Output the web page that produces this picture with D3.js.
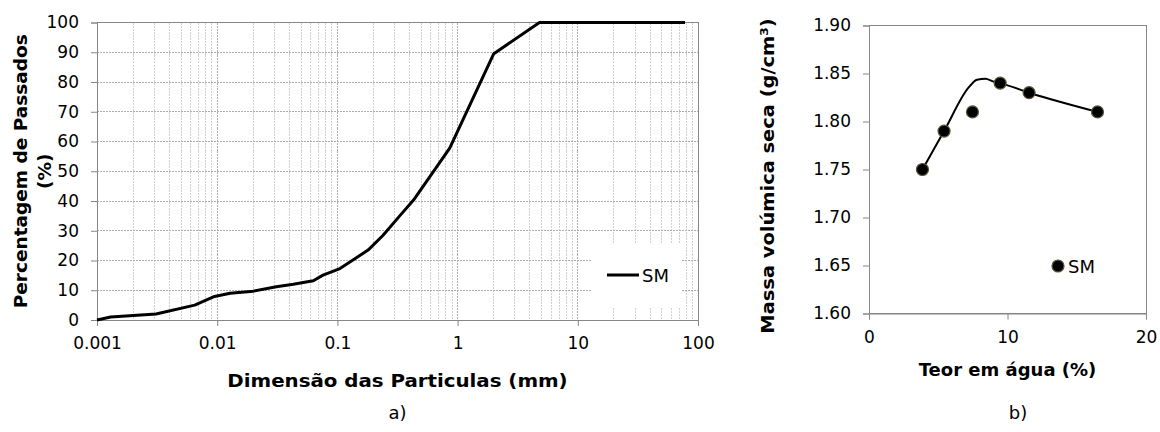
<!DOCTYPE html>
<html><head><meta charset="utf-8">
<script src="https://cdn.jsdelivr.net/npm/d3@7"></script>
<style>
body{margin:0;background:#fff}
text{font-family:"DejaVu Sans",Verdana,sans-serif;fill:#000}
</style>
</head><body><svg id="c" width="1160" height="432"></svg>
<script>
// ---- Chart a) grain size distribution ----
const sizes   = [0.001, 0.0013, 0.0031, 0.0065, 0.0093, 0.0128, 0.02, 0.031, 0.043, 0.063, 0.076, 0.105, 0.18, 0.24, 0.33, 0.43, 0.86, 2.0, 4.8, 78];
const passing = [0, 1.0, 2.0, 5.0, 7.8, 9.0, 9.7, 11.2, 12.0, 13.2, 15.1, 17.3, 23.5, 28.5, 35.0, 40.3, 57.8, 89.5, 100, 100];
const sizeTicks = [0.001, 0.01, 0.1, 1, 10, 100];
const sizeTickLabels = ["0.001", "0.01", "0.1", "1", "10", "100"];
const pctTicks = [0, 10, 20, 30, 40, 50, 60, 70, 80, 90, 100];
const seriesA = "SM";

// ---- Chart b) compaction ----
const water   = [3.86, 5.42, 7.47, 9.47, 11.56, 16.5];
const density = [1.75, 1.79, 1.81, 1.84, 1.83, 1.81];
const fitWater   = [3.86, 5.42, 7.2, 7.8, 8.4, 9.0, 9.47, 11.56, 16.5];
const fitDensity = [1.75, 1.79, 1.8355, 1.8435, 1.8445, 1.8415, 1.84, 1.83, 1.81];
const densTicks = [1.60, 1.65, 1.70, 1.75, 1.80, 1.85, 1.90];
const waterTicks = [0, 10, 20];
const seriesB = "SM";

const svg = d3.select("#c");
const frameCol = "#868686";
const tickFont = "17px";

// ================= Chart a =================
const xa = d3.scaleLog().domain([0.001, 100]).range([97, 698]);
const ya = d3.scaleLinear().domain([0, 100]).range([320, 22.5]);
const ga = svg.append("g");

// vertical grid (minor + major)
const vgrid = [];
for (let e = -3; e <= 1; e++) for (let k = 1; k <= 9; k++) vgrid.push(k * Math.pow(10, e));
ga.append("g").selectAll("line").data(vgrid.filter(v => v > 0.001)).join("line")
  .attr("x1", d => xa(d)).attr("x2", d => xa(d))
  .attr("y1", ya(100)).attr("y2", ya(0))
  .attr("stroke", d => sizeTicks.some(t => Math.abs(t - d) / t < 1e-9) ? "#b0b0b0" : "#d0d0d0")
  .attr("stroke-width", 1).attr("stroke-dasharray", "2,1")
  .attr("shape-rendering", "crispEdges");
// horizontal grid
ga.append("g").selectAll("line").data(pctTicks.filter(v => v > 0 && v < 100)).join("line")
  .attr("x1", xa(0.001)).attr("x2", xa(100))
  .attr("y1", d => ya(d)).attr("y2", d => ya(d))
  .attr("stroke", "#adadad").attr("stroke-width", 1).attr("stroke-dasharray", "2,1")
  .attr("shape-rendering", "crispEdges");

// frame
ga.append("rect").attr("x", xa(0.001)).attr("y", ya(100))
  .attr("width", xa(100) - xa(0.001)).attr("height", ya(0) - ya(100))
  .attr("fill", "none").attr("stroke", frameCol).attr("shape-rendering", "crispEdges");

// axes
const axA_y = ga.append("g").attr("transform", `translate(${xa(0.001)},0)`)
  .call(d3.axisLeft(ya).tickValues(pctTicks).tickSize(6).tickPadding(12));
const axA_x = ga.append("g").attr("transform", `translate(0,${ya(0)})`)
  .call(d3.axisBottom(xa).tickValues(sizeTicks).tickFormat((d, i) => sizeTickLabels[i]).tickSize(6).tickPadding(11));
[axA_y, axA_x].forEach(a => {
  a.select(".domain").attr("stroke", frameCol);
  a.selectAll(".tick line").attr("stroke", frameCol);
  a.selectAll("text").style("font-size", tickFont).attr("fill", "#000");
});

// legend box (drawn over grid, under curve)
const legA = ga.append("g");
legA.append("rect").attr("x", 591).attr("y", 243).attr("width", 91).attr("height", 65).attr("fill", "#fff");
legA.append("line").attr("x1", 607).attr("x2", 639).attr("y1", 275).attr("y2", 275)
  .attr("stroke", "#000").attr("stroke-width", 3);
legA.append("text").attr("x", 642).attr("y", 282).style("font-size", "18px").text(seriesA);

// curve
const lineA = d3.line().x((d, i) => xa(sizes[i])).y((d, i) => ya(passing[i]));
ga.append("path").datum(sizes).attr("d", lineA)
  .attr("fill", "none").attr("stroke", "#000").attr("stroke-width", 3).attr("stroke-linejoin", "round");

// titles
const midA = (ya(0) + ya(100)) / 2;
ga.append("text").attr("transform", `translate(27,${midA}) rotate(-90)`)
  .attr("text-anchor", "middle").style("font-size", "18.5px").style("font-weight", "bold")
  .text("Percentagem de Passados");
ga.append("text").attr("transform", `translate(51,${midA}) rotate(-90)`)
  .attr("text-anchor", "middle").style("font-size", "18.5px").style("font-weight", "bold")
  .text("(%)");
ga.append("text").attr("transform", `translate(${(xa(0.001) + xa(100)) / 2},387) scale(1.1,1)`)
  .attr("text-anchor", "middle").style("font-size", "18px").style("font-weight", "bold")
  .text("Dimensão das Particulas (mm)");
ga.append("text").attr("x", (xa(0.001) + xa(100)) / 2).attr("y", 419)
  .attr("text-anchor", "middle").style("font-size", "18px").text("a)");

// ================= Chart b =================
const xb = d3.scaleLinear().domain([0, 20]).range([869, 1146]);
const yb = d3.scaleLinear().domain([1.60, 1.90]).range([313.5, 25.5]);
const gb = svg.append("g");

gb.append("rect").attr("x", xb(0)).attr("y", yb(1.90))
  .attr("width", xb(20) - xb(0)).attr("height", yb(1.60) - yb(1.90))
  .attr("fill", "none").attr("stroke", frameCol).attr("shape-rendering", "crispEdges");

const axB_y = gb.append("g").attr("transform", `translate(${xb(0)},0)`)
  .call(d3.axisLeft(yb).tickValues(densTicks).tickFormat(d3.format(".2f")).tickSize(6).tickPadding(12));
const axB_x = gb.append("g").attr("transform", `translate(0,${yb(1.60)})`)
  .call(d3.axisBottom(xb).tickValues(waterTicks).tickFormat(d3.format("d")).tickSize(6).tickPadding(11));
[axB_y, axB_x].forEach(a => {
  a.select(".domain").attr("stroke", frameCol);
  a.selectAll(".tick line").attr("stroke", frameCol);
  a.selectAll("text").style("font-size", tickFont).attr("fill", "#000");
});

const lineB = d3.line().curve(d3.curveMonotoneX)
  .x((d, i) => xb(fitWater[i])).y((d, i) => yb(fitDensity[i]));
gb.append("path").datum(fitWater).attr("d", lineB)
  .attr("fill", "none").attr("stroke", "#000").attr("stroke-width", 2);

gb.append("g").selectAll("circle").data(water).join("circle")
  .attr("cx", d => xb(d)).attr("cy", (d, i) => yb(density[i])).attr("r", 6)
  .attr("fill", "#000").attr("stroke", "#5a553a").attr("stroke-width", 1.2);

// legend
gb.append("circle").attr("cx", 1058).attr("cy", 266).attr("r", 6)
  .attr("fill", "#000").attr("stroke", "#5a553a").attr("stroke-width", 1.2);
gb.append("text").attr("x", 1068).attr("y", 273).style("font-size", "18px").text(seriesB);

// titles
gb.append("text").attr("transform", `translate(774,176) rotate(-90) scale(1.08,1)`)
  .attr("text-anchor", "middle").style("font-size", "18px").style("font-weight", "bold")
  .text("Massa volúmica seca (g/cm³)");
gb.append("text").attr("x", (xb(0) + xb(20)) / 2).attr("y", 376)
  .attr("text-anchor", "middle").style("font-size", "18px").style("font-weight", "bold")
  .text("Teor em água (%)");
gb.append("text").attr("x", 1018).attr("y", 419)
  .attr("text-anchor", "middle").style("font-size", "18px").text("b)");
</script>
</body></html>
